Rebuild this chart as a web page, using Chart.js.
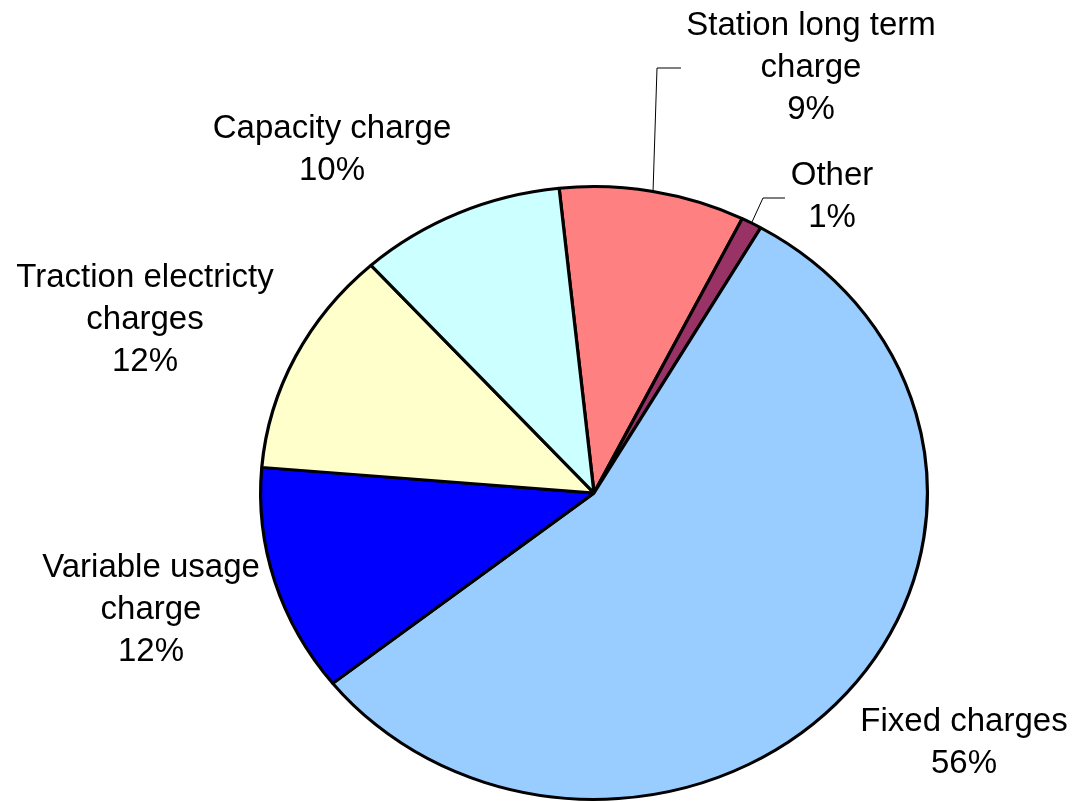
<!DOCTYPE html>
<html>
<head>
<meta charset="utf-8">
<script src="https://cdn.jsdelivr.net/npm/chart.js@4/dist/chart.umd.min.js"></script>
<style>
  html, body { margin: 0; padding: 0; background: #fff; }
  .wrap { width: 1075px; height: 802px; position: relative; }
</style>
</head>
<body>
<div class="wrap"><canvas id="pie"></canvas></div>
<script>
// slices, clockwise from the top
const categories = ["Station long term charge", "Other", "Fixed charges", "Variable usage charge", "Traction electricty charges", "Capacity charge"];
const shares = [9, 1, 56, 12, 12, 10];
const colours = ["#FF8080", "#993366", "#99CCFF", "#0000FF", "#FFFFCC", "#CCFFFF"];

// how the label text wraps (last line is the percent)
const labelLines = [
  ["Station long term", "charge"],
  ["Other"],
  ["Fixed charges"],
  ["Variable usage", "charge"],
  ["Traction electricty", "charges"],
  ["Capacity charge"],
];
// where each label sits: centre x, first line y
const labelAt = [[811, 26], [832, 176], [964, 722], [151, 568], [145, 278], [332, 129]];
// leader lines: elbow point and end point (only the small top slices)
const leaders = [[[657, 68], [681, 68]], [[763, 198], [785, 198]], null, null, null, null];

const centreY = 493;   // where the pie centre lands on the page
const squash = 0.919;  // the original pie is a bit flatter than round

const squashPlugin = {
  id: "squash",
  beforeDatasetsDraw(chart) {
    const arc = chart.getDatasetMeta(0).data[0];
    const ctx = chart.ctx;
    ctx.save();
    ctx.translate(0, centreY);
    ctx.scale(1, squash);
    ctx.translate(0, -arc.y);
  },
  afterDatasetsDraw(chart) {
    chart.ctx.restore();
  },
};

const labelPlugin = {
  id: "labels",
  afterDraw(chart) {
    const ctx = chart.ctx;
    const arcs = chart.getDatasetMeta(0).data;
    ctx.save();
    // leader lines from the slice edge midpoint
    ctx.strokeStyle = "#000";
    ctx.lineWidth = 1;
    arcs.forEach((a, i) => {
      if (!leaders[i]) return;
      const mid = (a.startAngle + a.endAngle) / 2;
      const x0 = a.x + Math.cos(mid) * a.outerRadius;
      const y0 = centreY + Math.sin(mid) * a.outerRadius * squash;
      ctx.beginPath();
      ctx.moveTo(x0, y0);
      ctx.lineTo(leaders[i][0][0], leaders[i][0][1]);
      ctx.lineTo(leaders[i][1][0], leaders[i][1][1]);
      ctx.stroke();
    });
    ctx.fillStyle = "#000";
    ctx.font = "33px 'Liberation Sans', Arial, sans-serif";
    ctx.textAlign = "center";
    ctx.textBaseline = "middle";
    categories.forEach((c, i) => {
      const lines = labelLines[i].concat([shares[i] + "%"]);
      lines.forEach((t, k) => {
        ctx.fillText(t, labelAt[i][0], labelAt[i][1] + k * 42);
      });
    });
    ctx.restore();
  },
};

new Chart(document.getElementById("pie"), {
  type: "pie",
  data: {
    labels: categories,
    datasets: [
      {
        data: shares,
        backgroundColor: colours,
        borderColor: "#000",
        borderWidth: 3.2,
      },
    ],
  },
  options: {
    responsive: true,
    maintainAspectRatio: false,
    animation: false,
    events: [],
    rotation: -6,
    layout: { padding: { left: 259, right: 146, top: 66, bottom: 66 } },
    plugins: {
      legend: { display: false },
      tooltip: { enabled: false },
    },
  },
  plugins: [squashPlugin, labelPlugin],
});
</script>
</body>
</html>
